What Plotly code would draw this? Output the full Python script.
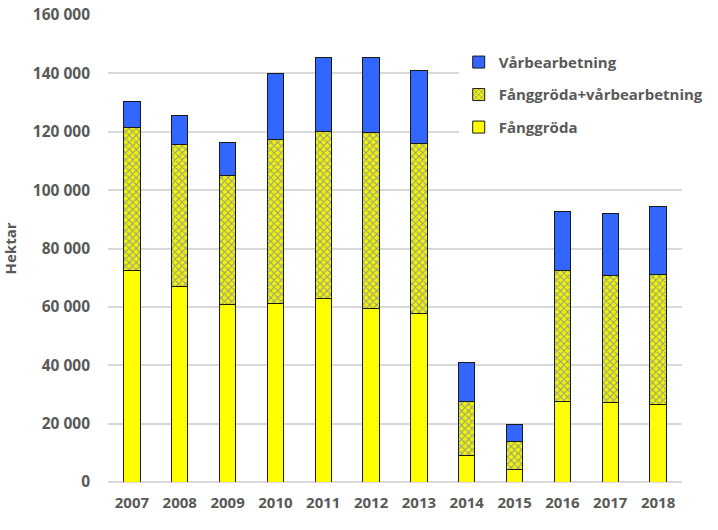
import plotly.graph_objects as go

years = ["2007", "2008", "2009", "2010", "2011", "2012", "2013", "2014", "2015", "2016", "2017", "2018"]
fanggroda = [72300, 67100, 60800, 61300, 63000, 59600, 57900, 9200, 4400, 27500, 27200, 26600]
fanggroda_var = [49000, 48700, 44100, 55900, 57200, 60000, 58200, 18300, 9400, 45100, 43700, 44600]
varbearbetning = [8900, 9900, 11300, 22600, 25400, 25700, 25000, 13400, 6000, 20200, 21100, 23100]

grey = "#595959"
font_family = "Open Sans, Liberation Sans, sans-serif"
line = dict(color="#1a1a1a", width=1)
xfont = dict(size=15, color=grey, family=font_family, weight="bold")
yfont = dict(size=15.5, color=grey, family=font_family, weight="bold")
legfont = dict(size=15, color=grey, family=font_family, weight="bold")

fig = go.Figure()
fig.add_trace(go.Bar(
    x=years, y=fanggroda, name="Fånggröda", legendgroup="a", legendrank=3,
    marker=dict(color="#FFFF00", line=line),
))
fig.add_trace(go.Bar(
    x=years, y=fanggroda_var, name="Fånggröda+vårbearbetning", legendgroup="b", legendrank=2,
    marker=dict(color="#FFFF00", line=line,
                pattern=dict(shape="x", fgcolor="#8A9A9A", bgcolor="#F2F200",
                             size=5, solidity=0.35, fillmode="replace")),
))
fig.add_trace(go.Bar(
    x=years, y=varbearbetning, name="Vårbearbetning", legendgroup="c", legendrank=1,
    marker=dict(color="#3366FF", line=line),
))

fig.update_layout(
    width=718, height=530, autosize=False,
    barmode="stack", bargap=0.66,
    separators=", ",
    plot_bgcolor="white", paper_bgcolor="white",
    margin=dict(l=108, r=36, t=15, b=48, autoexpand=False),
    font=dict(family=font_family, color=grey, size=14),
    showlegend=True,
    legend=dict(
        x=0.611, y=0.934, xanchor="left", yanchor="top",
        traceorder="grouped", bgcolor="white",
        font=legfont,
        tracegroupgap=10, itemwidth=30,
    ),
    xaxis=dict(
        type="category", range=[-0.5, 11.5], showgrid=False, showline=False, ticks="",
        automargin=False, ticklabelstandoff=10,
        tickfont=xfont,
    ),
    yaxis=dict(
        range=[0, 160000], dtick=20000, tickformat=",d",
        showgrid=True, gridcolor="#D9D9D9", gridwidth=1.5,
        zeroline=True, zerolinecolor="#D9D9D9", zerolinewidth=1.5,
        showline=False, ticks="", automargin=False, ticklabelstandoff=17,
        ticklabeloverflow="allow",
        tickfont=yfont,
        title=dict(text="Hektar", standoff=18, font=legfont),
    ),
)

fig.write_html("out.html", config={"displayModeBar": False},
               post_script="document.body.style.margin='0';")
